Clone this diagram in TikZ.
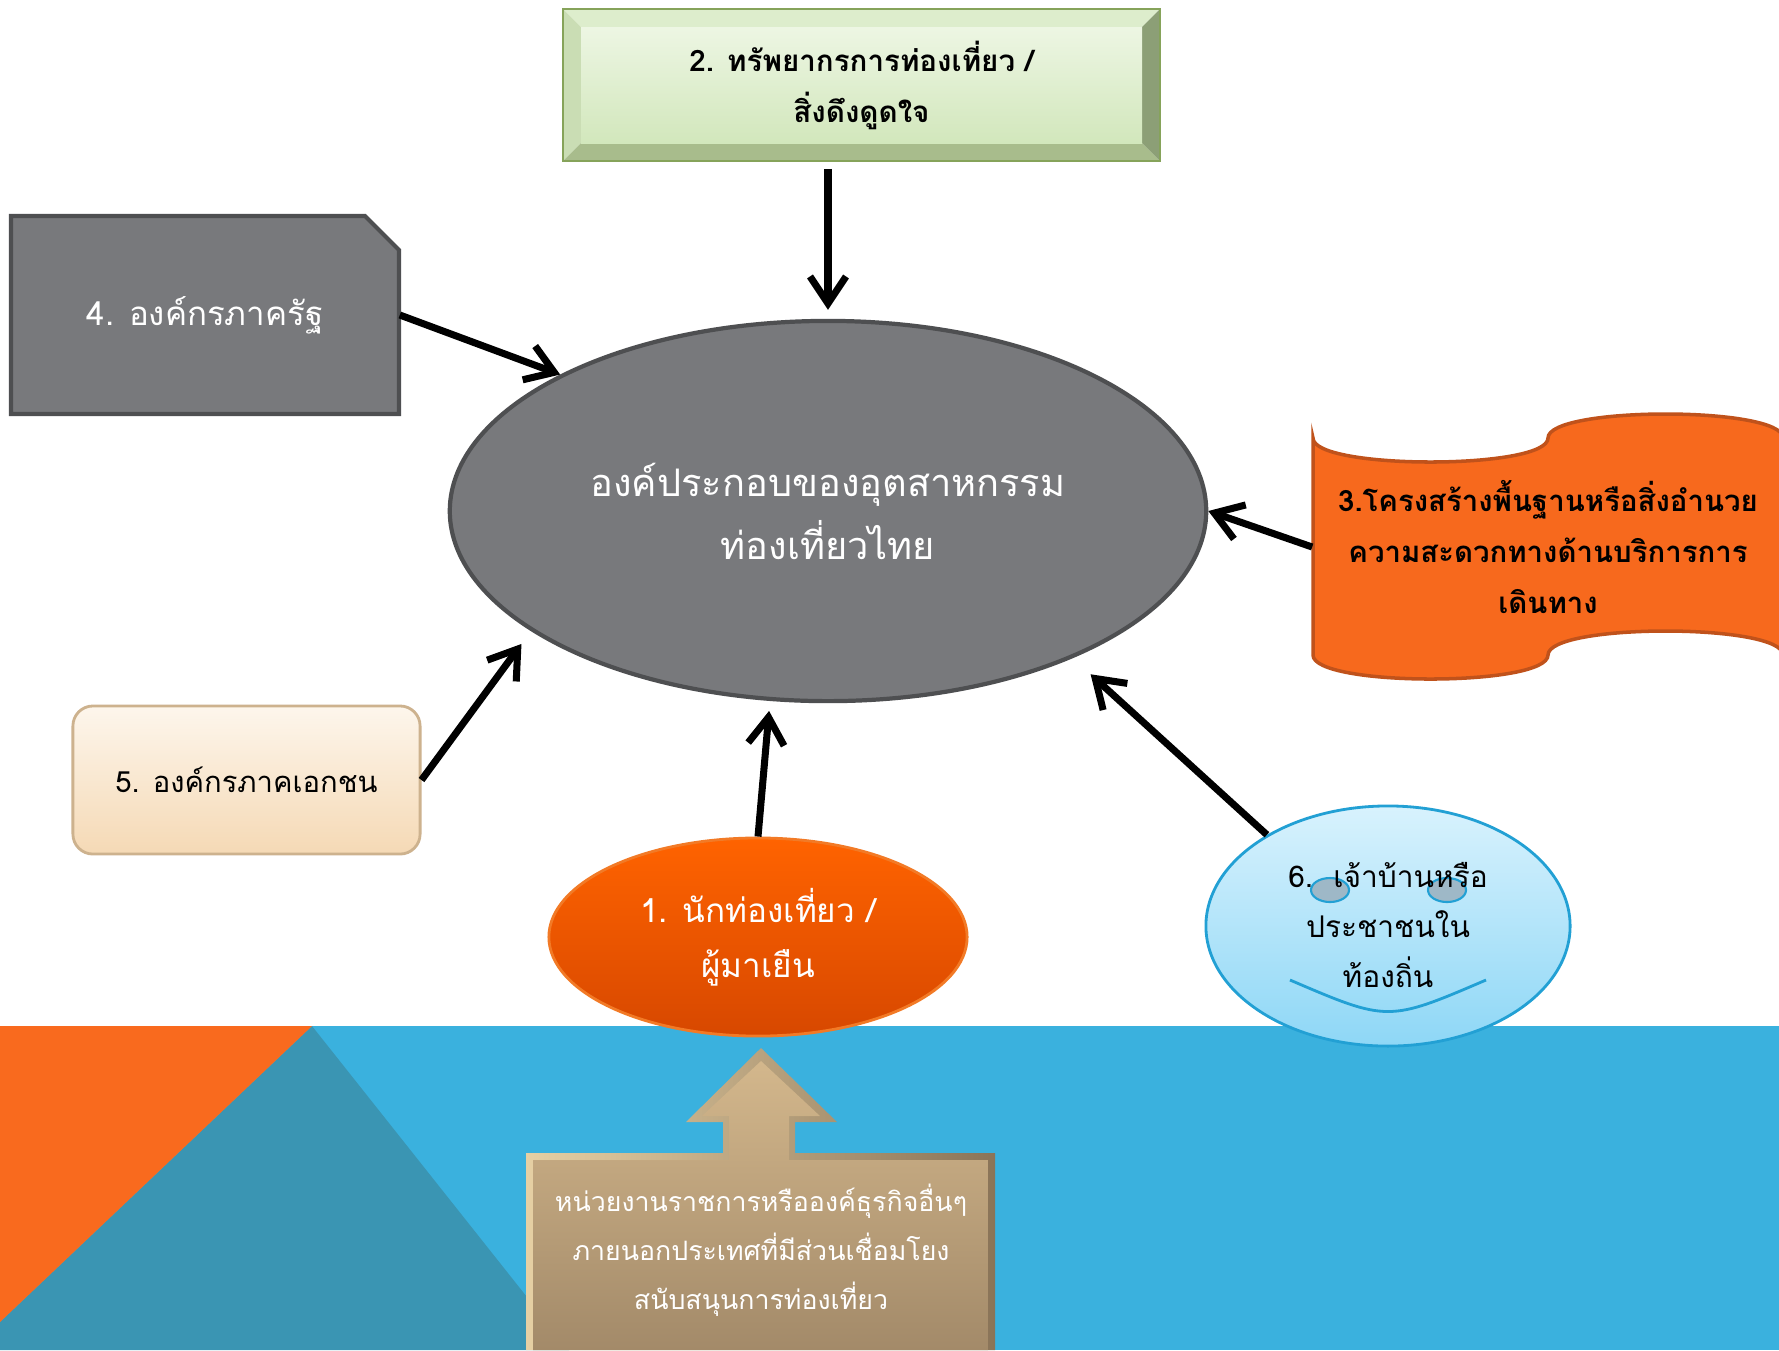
\documentclass[tikz,border=0pt]{standalone}
\usepackage{fontspec}
\usepackage{tikz}
\usetikzlibrary{shapes,arrows.meta,calc}
\newfontfamily\thaifont[Script=Thai]{Loma}

\definecolor{bandblue}{HTML}{3AB1DE}
\definecolor{bandteal}{HTML}{3A95B3}
\definecolor{bandorange}{HTML}{F96A1E}
\definecolor{maingray}{HTML}{78797C}
\definecolor{mainline}{HTML}{4E4F51}
\definecolor{waveorange}{HTML}{F7691D}
\definecolor{waveline}{HTML}{C0521B}
\definecolor{gtop}{HTML}{DDEDCC}
\definecolor{gleft}{HTML}{CADDB4}
\definecolor{gbot}{HTML}{A8BC8C}
\definecolor{gright}{HTML}{8C9F76}
\definecolor{ginA}{HTML}{EDF6E3}
\definecolor{ginB}{HTML}{D2E7BC}
\definecolor{gline}{HTML}{86A35A}
\definecolor{creamA}{HTML}{FDF6EC}
\definecolor{creamB}{HTML}{F5D9B5}
\definecolor{creamline}{HTML}{CDB28E}
\definecolor{tourA}{HTML}{FF6300}
\definecolor{tourB}{HTML}{D74800}
\definecolor{tourline}{HTML}{F27A26}
\definecolor{hostA}{HTML}{D8F2FD}
\definecolor{hostB}{HTML}{8ED7F6}
\definecolor{hostline}{HTML}{22A0D4}
\definecolor{eyefill}{HTML}{9EB8C7}
\definecolor{tanA}{HTML}{E6D0A4}
\definecolor{tanB}{HTML}{8A7458}
\definecolor{taninA}{HTML}{D3B78C}
\definecolor{taninB}{HTML}{A38A69}

\begin{document}
\begin{tikzpicture}[x=0.01cm,y=-0.01cm,
  >={Straight Barb[length=2.7mm,width=3.6mm]},
  link/.style={draw=black,line width=2pt,->},
  thai/.style 2 args={font=\thaifont\fontsize{#1}{#2}\selectfont,align=center},
  thaib/.style 2 args={font=\thaifont\bfseries\fontsize{#1}{#2}\selectfont,align=center}]
\useasboundingbox (0,0) rectangle (1779,1350);
\fill[white] (0,0) rectangle (1779,1350);

% bottom band
\fill[bandblue] (0,1026) rectangle (1779,1350);
\fill[bandteal] (312,1026) -- (0,1322) -- (0,1350) -- (569,1350) -- cycle;
\fill[bandorange] (0,1026) -- (312,1026) -- (0,1322) -- cycle;

% 2
\fill[gtop] (563,9) -- (1160,9) -- (1142,27) -- (581,27) -- cycle;
\fill[gleft] (563,9) -- (581,27) -- (581,143) -- (563,161) -- cycle;
\fill[gbot] (563,161) -- (581,143) -- (1142,143) -- (1160,161) -- cycle;
\fill[gright] (1160,9) -- (1160,161) -- (1142,143) -- (1142,27) -- cycle;
\shade[top color=ginA,bottom color=ginB] (581,27) rectangle (1142,143);
\draw[gline,line width=0.8pt] (563,9) rectangle (1160,161);
\node[thaib={8.4}{14.5},minimum width=5.97cm,minimum height=1.52cm] (box2) at (861.5,85)
  {2. ทรัพยากรการท่องเที่ยว /\\สิ่งดึงดูดใจ};

% 4
\filldraw[fill=maingray,draw=mainline,line width=1.2pt]
  (11,216) -- (365,216) -- (399,250) -- (399,414) -- (11,414) -- cycle;
\node[thai={9.4}{14},text=white,minimum width=3.88cm,minimum height=1.98cm] (box4) at (205,315)
  {4. องค์กรภาครัฐ};

% centre
\node[ellipse,fill=maingray,draw=mainline,line width=1.2pt,minimum width=7.56cm,minimum height=3.8cm,
  thai={10.8}{17.9},text=white] (main) at (828,511) {องค์ประกอบของอุตสาหกรรม\\ท่องเที่ยวไทย};

% 3
\filldraw[fill=waveorange,draw=waveline,line width=1pt]
  (1313,438) .. controls (1313,470) and (1548,470) .. (1548,438)
  .. controls (1548,406) and (1783,406) .. (1783,438) -- (1783,655)
  .. controls (1783,623) and (1548,623) .. (1548,655)
  .. controls (1548,687) and (1313,687) .. (1313,655) -- cycle;
\node[thaib={8.35}{14.5},minimum width=4.7cm,minimum height=2.17cm] (box3) at (1548,547)
  {3.โครงสร้างพื้นฐานหรือสิ่งอำนวย\\ความสะดวกทางด้านบริการการ\\เดินทาง};

% 5
\node[rounded corners=0.2cm,top color=creamA,bottom color=creamB,draw=creamline,line width=0.8pt,
  minimum width=3.47cm,minimum height=1.48cm,thai={8.3}{14}] (box5) at (246.5,780) {5. องค์กรภาคเอกชน};

% 1
\node[ellipse,top color=tourA,bottom color=tourB,draw=tourline,line width=0.8pt,
  minimum width=4.18cm,minimum height=1.98cm,thai={9.45}{15.6},text=white] (tour) at (758,937)
  {1. นักท่องเที่ยว /\\ผู้มาเยืน};

% 6
\node[ellipse,top color=hostA,bottom color=hostB,draw=hostline,line width=0.8pt,
  minimum width=3.64cm,minimum height=2.4cm] (host) at (1388,926) {};
\filldraw[fill=eyefill,draw=hostline,line width=0.6pt] (1330,890) ellipse [x radius=19,y radius=12];
\filldraw[fill=eyefill,draw=hostline,line width=0.6pt] (1447,890) ellipse [x radius=19,y radius=12];
\draw[hostline,line width=0.8pt] (1290,980) .. controls (1388,1022) .. (1486,980);
\node[thai={8.5}{14.2}] (hosttext) at (1388,925) {6.~~เจ้าบ้านหรือ\\ประชาชนใน\\ท้องถิ่น};

% outside bodies
\shade[left color=tanA,right color=tanB]
  (761,1048) -- (837,1122) -- (795,1122) -- (795,1153) -- (995,1153) -- (995,1350)
  -- (526,1350) -- (526,1153) -- (723,1153) -- (723,1122) -- (686,1122) -- cycle;
\shade[top color=taninA,bottom color=taninB]
  (761,1061) -- (820,1116) -- (789,1116) -- (789,1160) -- (988,1160) -- (988,1350)
  -- (533,1350) -- (533,1160) -- (729,1160) -- (729,1116) -- (702,1116) -- cycle;
\node[thai={7.6}{13.9},text=white] (ext) at (761,1250)
  {หน่วยงานราชการหรือองค์ธุรกิจอื่นๆ\\ภายนอกประเทศที่มีส่วนเชื่อมโยง\\สนับสนุนการท่องเที่ยว};

% arrows
\draw[link,shorten <=0.07cm,shorten >=0.09cm] (main.north |- box2.south) -- (main.north);
\draw[link] (box4.east) -- (main.153);
\draw[link] (box3.west) -- (main.east);
\draw[link,shorten >=0.16cm] (box5.east) -- (main.202);
\draw[link,shorten >=0.1cm] (tour.north) -- (main.253);
\draw[link,shorten >=0.24cm] (host.143) -- (main.329);
\end{tikzpicture}
\end{document}
